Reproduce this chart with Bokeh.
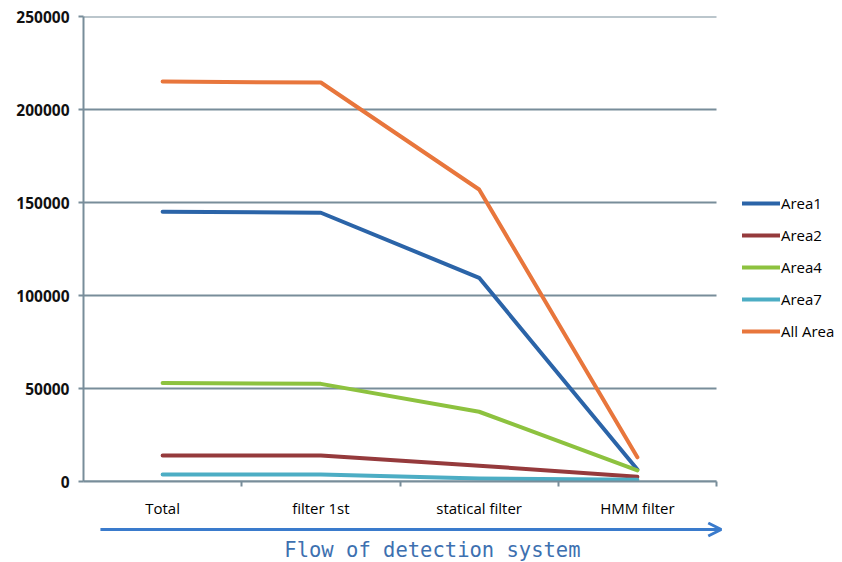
from bokeh.plotting import figure
from bokeh.models import Range1d, FixedTicker, NumeralTickFormatter, Arrow, OpenHead
from bokeh.layouts import column
from bokeh.core.properties import value
from bokeh.embed import file_html
from bokeh.resources import INLINE

categories = ["Total", "filter 1st", "statical filter", "HMM filter"]
area1 = [145000, 144500, 109500, 6500]
area2 = [14000, 14000, 8500, 2500]
area4 = [53000, 52500, 37500, 6000]
area7 = [3800, 3800, 1600, 900]
all_area = [215000, 214500, 157000, 13000]

series_names = ["Area1", "Area2", "Area4", "Area7", "All Area"]
series_values = [area1, area2, area4, area7, all_area]
colors = ["#2b64a8", "#953a3c", "#8dc23f", "#4cadc4", "#e8763c"]
y_ticks = [0, 50000, 100000, 150000, 200000, 250000]

n = len(categories)
xs = [i + 0.5 for i in range(n)]

# layout: plotting frame spans the whole width right of the y axis; categories use the left part
W, FRAME_L, CAT_R = 842, 83, 716
x_end = n * (W - FRAME_L) / (CAT_R - FRAME_L)

p = figure(width=W, height=521, output_backend="svg", toolbar_location=None,
           x_range=Range1d(0, x_end), y_range=Range1d(0, 250000),
           min_border_left=FRAME_L, min_border_right=0, min_border_top=16, min_border_bottom=40)
p.outline_line_color = None
p.background_fill_color = "white"

grid_color = "#788d9a"
# horizontal gridlines limited to the category area
p.segment(x0=[0] * len(y_ticks), x1=[n] * len(y_ticks), y0=y_ticks, y1=y_ticks,
          line_color=grid_color, line_width=2)
p.grid.visible = False

for name, vals, c in zip(series_names, series_values, colors):
    p.line(xs, vals, line_width=4, color=c, line_cap="round", line_join="round", legend_label=name)

p.yaxis.ticker = FixedTicker(ticks=y_ticks)
p.yaxis.formatter = NumeralTickFormatter(format="0")
p.yaxis.axis_line_color = grid_color
p.yaxis.axis_line_width = 2
p.yaxis.major_tick_line_color = grid_color
p.yaxis.major_tick_line_width = 2
p.yaxis.major_tick_out = 5
p.yaxis.major_tick_in = 0
p.yaxis.minor_tick_line_color = None
p.yaxis.major_label_text_font = "Open Sans"
p.yaxis.major_label_text_font_style = "bold"
p.yaxis.major_label_text_font_size = "15.5px"
p.yaxis.major_label_text_color = "#111111"
p.yaxis.major_label_standoff = 9

p.xaxis.ticker = FixedTicker(ticks=xs, minor_ticks=list(range(1, n + 1)))
p.xaxis.bounds = (0, n)
p.xaxis.major_label_overrides = {x: c for x, c in zip(xs, categories)}
p.xaxis.axis_line_color = grid_color
p.xaxis.axis_line_width = 2
p.xaxis.major_tick_line_color = None
p.xaxis.major_tick_out = 0
p.xaxis.major_tick_in = 0
p.xaxis.minor_tick_line_color = grid_color
p.xaxis.minor_tick_line_width = 2
p.xaxis.minor_tick_out = 5
p.xaxis.minor_tick_in = 0
p.xaxis.major_label_standoff = 11
p.xaxis.major_label_text_font = "Open Sans"
p.xaxis.major_label_text_font_size = "15px"
p.xaxis.major_label_text_color = "#000000"

lg = p.legend[0]
lg.location = (659, 140)
lg.border_line_color = None
lg.background_fill_alpha = 0
lg.padding = 0
lg.margin = 0
lg.spacing = 12
lg.glyph_width = 38
lg.glyph_height = 20
lg.label_height = 20
lg.label_standoff = 1
lg.label_text_font = "Open Sans"
lg.label_text_font_size = "15px"
lg.label_text_color = "#000000"

# bottom: flow arrow and caption (same horizontal frame as the chart)
b = figure(width=W, height=41, output_backend="svg", toolbar_location=None,
           x_range=Range1d(0, x_end), y_range=Range1d(0, 41),
           min_border_left=FRAME_L, min_border_right=0, min_border_top=0, min_border_bottom=0)
b.axis.visible = False
b.grid.visible = False
b.outline_line_color = None
arrow_color = "#3a7bcc"
b.add_layout(Arrow(x_start=0.107, y_start=33, x_end=4.03, y_end=33, line_color=arrow_color, line_width=3,
                   end=OpenHead(line_color=arrow_color, line_width=3, size=13)))
b.text(x=[2.205], y=[13], text=["Flow of detection system"], text_font=value("DejaVu Sans Mono"),
       text_font_size="20.5px", text_color="#3d70b0", text_align="center", text_baseline="middle")

layout = column(p, b, spacing=0)
open("out.html", "w").write(file_html(layout, INLINE))
